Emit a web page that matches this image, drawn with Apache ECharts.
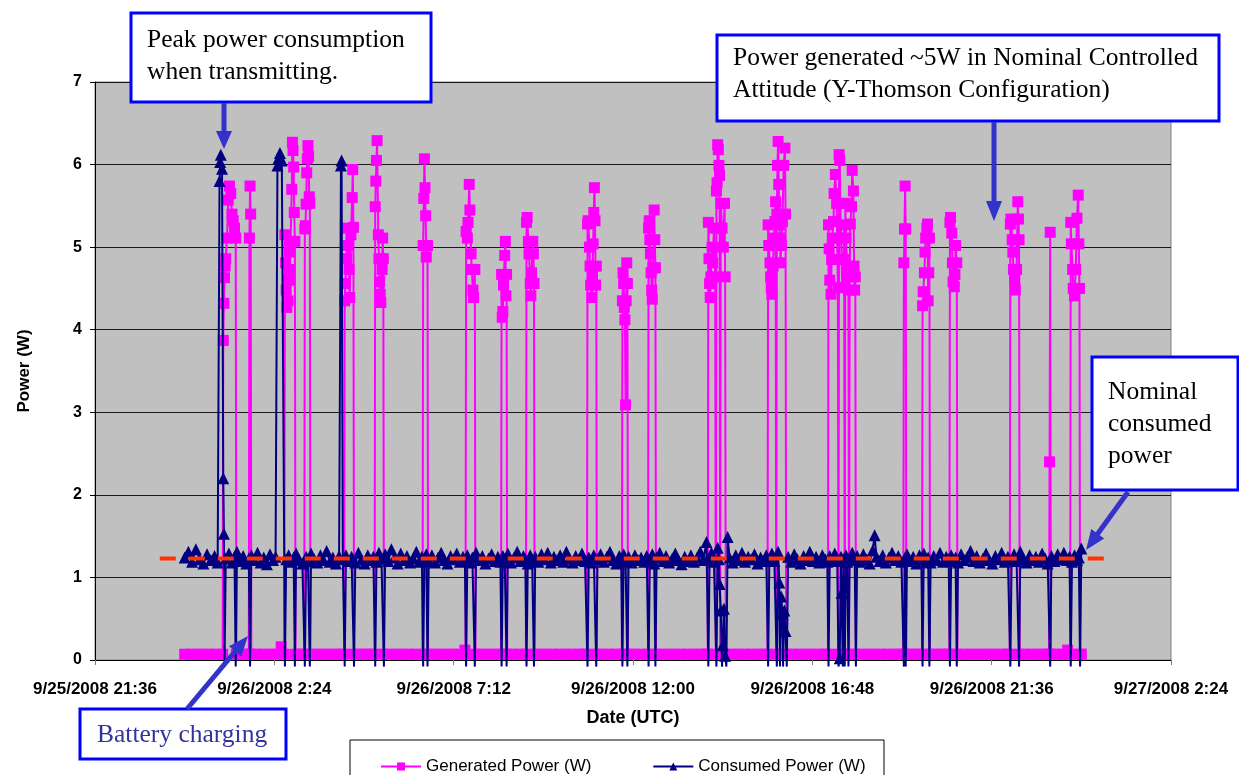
<!DOCTYPE html>
<html><head><meta charset="utf-8">
<script src="https://cdn.jsdelivr.net/npm/echarts@6/dist/echarts.min.js"></script>
<style>html,body{margin:0;padding:0;background:#fff}#chart{width:1239px;height:775px}</style>
</head><body><div id="chart"></div>
<script>
// ---- Data (time = minutes after 9/26/2008 00:00 UTC, power in W) ----
const xTickLabels = ['9/25/2008 21:36','9/26/2008 2:24','9/26/2008 7:12','9/26/2008 12:00','9/26/2008 16:48','9/26/2008 21:36','9/27/2008 2:24'];
const seriesNames = ['Generated Power (W)','Consumed Power (W)'];

const generated = [
[0,0.07],[10,0.07],[20,0.07],[30,0.07],[40,0.07],[50,0.07],[61,0.07],
[62,3.87],[63,4.32],[64,4.63],[65,4.77],[66,4.86],[68,5.11],[70,5.57],[72,5.74],[74,5.65],[76,5.40],[78,5.32],[80,5.23],[82,5.11],[83,0.07],
[93,0.07],[103,0.07],
[104,5.11],[105,5.74],[106,5.40],[107,0.07],
[117,0.07],[127,0.07],[137,0.07],[147,0.07],[155,0.16],[160,0.07],
[161,5.15],[162,4.81],[163,4.48],[164,4.27],[166,4.35],[167,4.60],[168,4.73],[169,4.94],[170,5.07],[172,5.70],[173,6.27],[174,6.17],[175,5.97],[176,5.42],[177,5.07],[178,0.07],
[185,0.07],[192,0.07],
[193,5.22],[194,5.26],[195,5.52],[196,5.90],[197,6.07],[198,6.23],[199,6.10],[200,5.61],[201,5.53],[202,0.07],
[212,0.07],[222,0.07],[232,0.07],[242,0.07],[250,0.07],[256,0.07],
[257,4.35],[258,4.56],[260,4.86],[261,5.23],[263,5.02],[264,4.73],[265,4.39],[267,5.15],[269,5.60],[270,5.94],[271,5.24],[272,0.07],
[280,0.07],[290,0.07],[298,0.07],[305,0.07],
[306,5.49],[307,5.80],[308,6.05],[309,6.29],[311,5.15],[312,4.86],[313,4.58],[314,4.43],[315,4.33],[317,4.73],[318,5.11],[319,4.86],[320,0.07],
[330,0.07],[340,0.07],[350,0.07],[360,0.07],[370,0.07],[382,0.07],
[383,5.02],[384,5.59],[385,6.07],[386,5.72],[387,5.38],[388,4.88],[390,5.02],[391,0.07],
[400,0.07],[410,0.07],[420,0.07],[430,0.07],[440,0.07],[450,0.12],[451,0.07],
[452,5.19],[454,5.11],[455,5.30],[457,5.76],[458,5.45],[460,4.92],[461,4.73],[463,4.48],[464,4.39],[466,4.73],[467,0.07],
[477,0.07],[487,0.07],[497,0.07],[508,0.07],
[509,4.67],[510,4.15],[511,4.22],[512,4.54],[514,4.90],[515,5.07],[516,4.41],[517,4.67],[518,0.07],
[528,0.07],[538,0.07],[548,0.07],
[549,5.30],[550,5.36],[552,5.07],[553,4.92],[555,4.56],[556,4.41],[557,4.69],[559,5.07],[560,4.92],[561,4.56],[562,0.07],
[572,0.07],[582,0.07],[592,0.07],[602,0.07],[612,0.07],[622,0.07],[632,0.07],[641,0.07],[646,0.07],
[647,5.28],[648,5.32],[650,5.00],[651,4.77],[652,4.54],[654,4.39],[655,4.67],[656,5.04],[657,5.42],[658,5.72],[659,5.32],[660,4.54],[661,4.77],[662,0.07],
[672,0.07],[682,0.07],[692,0.07],[702,0.07],
[703,4.35],[704,4.69],[705,4.56],[706,4.27],[707,4.12],[708,3.09],[709,4.35],[710,4.81],[711,4.56],[712,0.07],
[722,0.07],[732,0.07],[744,0.07],
[745,5.23],[746,5.32],[747,5.09],[748,4.92],[749,4.69],[750,4.48],[751,4.37],[752,4.75],[754,5.45],[755,5.09],[756,4.75],[757,0.07],
[767,0.07],[777,0.07],[787,0.07],[797,0.07],[807,0.07],[817,0.07],[827,0.07],[836,0.07],[840,0.07],
[841,5.30],[842,4.86],[843,4.56],[844,4.39],[845,4.64],[847,5.00],[848,4.81],[850,5.23],[852,4.64],[853,0.07],[854,5.68],[855,5.78],[856,6.24],[857,6.18],[858,5.99],[859,5.87],[860,0.07],[861,5.53],[863,5.23],[865,5.00],[867,5.53],[868,4.64],[869,0.07],
[879,0.07],[889,0.07],[899,0.07],[909,0.07],[919,0.07],[929,0.07],[936,0.07],
[937,5.27],[938,5.02],[940,4.81],[941,4.64],[942,4.51],[943,4.43],[945,4.77],[946,5.11],[948,5.31],[949,5.55],[950,0.07],[951,5.40],[952,5.99],[953,6.28],[954,5.76],[955,5.27],[956,5.11],[957,4.81],[958,5.02],[960,5.31],[962,5.99],[964,6.20],[965,5.40],[966,0.07],
[976,0.07],[986,0.07],[996,0.07],[1006,0.07],[1016,0.07],[1026,0.07],[1033,0.07],
[1034,5.27],[1035,4.98],[1036,4.60],[1038,4.43],[1039,4.85],[1040,5.11],[1042,5.31],[1043,5.65],[1045,5.88],[1047,5.53],[1049,4.51],[1050,0.07],[1051,6.12],[1052,6.05],[1053,5.53],[1054,5.11],[1055,4.85],[1056,4.51],[1058,4.85],[1059,5.27],[1060,0.07],[1061,5.53],[1062,5.11],[1064,4.77],[1066,4.48],[1067,0.07],[1068,4.64],[1069,5.28],[1071,5.49],[1072,5.93],[1074,5.68],[1075,4.77],[1076,4.48],[1077,4.64],[1078,0.07],
[1088,0.07],[1098,0.07],[1108,0.07],[1118,0.07],[1128,0.07],[1138,0.07],[1148,0.07],[1154,0.07],
[1155,4.81],[1156,5.22],[1157,5.74],[1158,5.22],[1159,0.07],
[1168,0.07],[1176,0.07],[1184,0.07],
[1185,4.29],[1186,4.46],[1188,4.69],[1189,4.94],[1190,5.11],[1192,5.23],[1193,5.28],[1194,4.35],[1195,4.69],[1196,5.11],[1197,0.07],
[1206,0.07],[1216,0.07],[1224,0.07],[1228,0.07],
[1229,5.30],[1230,5.36],[1232,5.17],[1233,4.81],[1234,4.58],[1236,4.52],[1237,4.67],[1238,5.02],[1240,4.81],[1241,0.07],
[1251,0.07],[1261,0.07],[1271,0.07],[1281,0.07],[1291,0.07],[1301,0.07],[1311,0.07],[1320,0.07],[1325,0.07],
[1326,5.28],[1327,5.34],[1329,5.09],[1330,4.94],[1331,4.73],[1333,4.60],[1334,4.48],[1336,4.73],[1338,5.55],[1339,5.34],[1340,5.09],[1341,0.07],
[1350,0.07],[1360,0.07],[1370,0.07],[1380,0.07],[1388,0.07],
[1389,2.40],[1390,5.18],[1391,0.07],
[1400,0.07],[1410,0.07],[1418,0.12],[1422,0.07],
[1423,5.30],[1424,5.04],[1426,4.73],[1427,4.50],[1429,4.41],[1431,4.73],[1433,5.35],[1435,5.63],[1436,5.04],[1437,4.50],[1438,0.07],
[1440,0.07]
];

const consumed = [
[0,1.24],[6,1.31],[12,1.19],[18,1.34],[24,1.22],[30,1.17],[36,1.28],[42,1.21],[48,1.26],[53,1.18],
[56,5.80],[57,6.03],[58,6.12],[60,5.95],[62,2.20],[63,1.53],[64,-0.08],
[66,1.23],[71,1.29],[76,1.18],[80,1.25],[82,-0.08],
[84,1.31],[89,1.20],[94,1.26],[99,1.17],[103,1.23],[105,-0.08],
[107,1.27],[112,1.21],[117,1.30],[122,1.18],[127,1.24],[132,1.16],[137,1.28],[142,1.21],[146,1.25],
[149,5.99],[151,6.08],[153,6.14],[156,6.05],[161,-0.08],
[163,1.22],[167,1.27],[171,1.19],[175,1.24],[177,-0.08],
[179,1.29],[184,1.21],[189,1.17],[193,-0.08],
[195,1.25],[198,1.20],[201,-0.08],
[203,1.29],[208,1.22],[213,1.18],[218,1.27],[223,1.21],[228,1.32],[233,1.19],[238,1.24],[243,1.17],[248,1.26],
[251,5.99],[252,6.05],[254,1.22],[257,-0.08],
[259,1.27],[263,1.20],[268,1.25],[272,-0.08],
[274,1.18],[279,1.30],[284,1.22],[289,1.17],[294,1.27],[299,1.21],[303,1.25],[306,-0.08],
[308,1.19],[312,1.30],[316,1.23],[320,-0.08],
[322,1.28],[327,1.20],[332,1.34],[337,1.24],[342,1.17],[347,1.29],[352,1.21],[357,1.26],[362,1.18],[367,1.23],[372,1.31],[377,1.19],[381,1.25],[383,-0.08],
[385,1.22],[388,1.28],[390,-0.08],
[392,1.20],[397,1.27],[402,1.18],[407,1.24],[412,1.30],[417,1.21],[422,1.17],[427,1.26],[432,1.22],[437,1.29],[442,1.19],[447,1.25],[450,1.21],[452,-0.08],
[454,1.27],[458,1.18],[462,1.24],[466,-0.08],
[468,1.30],[473,1.21],[478,1.26],[483,1.17],[488,1.23],[493,1.28],[498,1.20],[503,1.25],[507,1.19],[509,-0.08],
[511,1.26],[514,1.21],[517,-0.08],
[519,1.29],[524,1.18],[529,1.24],[534,1.31],[539,1.20],[544,1.26],[547,1.22],[549,-0.08],
[551,1.17],[555,1.27],[558,1.21],[561,-0.08],
[563,1.25],[568,1.19],[573,1.28],[578,1.22],[583,1.30],[588,1.18],[593,1.25],[598,1.21],[603,1.27],[608,1.19],[613,1.31],[618,1.23],[623,1.18],[628,1.26],[633,1.21],[638,1.29],[643,1.20],[647,-0.08],
[649,1.24],[653,1.18],[657,1.27],[661,-0.08],
[663,1.22],[668,1.28],[673,1.19],[678,1.25],[683,1.31],[688,1.21],[693,1.17],[698,1.26],[701,1.22],[703,-0.08],
[705,1.28],[708,1.20],[711,-0.08],
[713,1.25],[718,1.18],[723,1.27],[728,1.21],[733,1.24],[738,1.19],[742,1.26],[745,-0.08],
[747,1.21],[751,1.28],[754,1.17],[756,-0.08],
[758,1.24],[763,1.30],[768,1.20],[773,1.26],[778,1.18],[783,1.23],[788,1.29],[793,1.21],[798,1.16],[803,1.25],[808,1.20],[813,1.27],[818,1.19],[823,1.24],[828,1.31],[833,1.21],[838,1.43],[841,-0.08],
[843,1.23],[846,1.30],[850,1.19],[854,-0.08],
[856,1.36],[858,1.22],[859,0.92],[861,0.60],[863,-0.08],[864,0.18],[866,0.62],[868,0.05],[870,-0.08],
[872,1.49],[875,1.24],[880,1.18],[885,1.27],[890,1.21],[895,1.30],[900,1.19],[905,1.25],[910,1.22],[915,1.28],[920,1.17],[925,1.24],[930,1.20],[934,1.27],[937,-0.08],
[939,1.22],[943,1.29],[947,1.20],[951,-0.08],
[953,1.31],[955,0.94],[956,-0.08],[958,0.77],[960,0.56],[961,-0.08],[963,0.60],[965,0.35],[967,-0.08],
[969,1.25],[974,1.19],[979,1.28],[984,1.22],[989,1.17],[994,1.26],[999,1.21],[1004,1.31],[1009,1.20],[1014,1.25],[1019,1.18],[1024,1.27],[1029,1.22],[1032,1.19],[1034,-0.08],
[1036,1.26],[1040,1.21],[1044,1.29],[1048,1.20],[1050,-0.08],
[1052,0.02],[1054,1.25],[1055,0.81],[1057,-0.08],[1058,1.22],[1060,-0.08],
[1062,1.27],[1064,1.19],[1066,-0.08],
[1068,1.24],[1072,1.30],[1076,1.21],[1078,-0.08],
[1080,1.26],[1085,1.19],[1090,1.28],[1095,1.22],[1100,1.17],[1105,1.33],[1108,1.51],[1111,1.25],[1116,1.20],[1121,1.27],[1126,1.18],[1131,1.24],[1136,1.30],[1141,1.21],[1146,1.26],[1151,1.19],[1155,-0.08],
[1157,1.24],[1158,-0.08],
[1160,1.28],[1165,1.20],[1170,1.25],[1175,1.17],[1180,1.27],[1183,1.22],[1185,-0.08],
[1187,1.29],[1191,1.19],[1194,1.24],[1196,-0.08],
[1198,1.18],[1203,1.26],[1208,1.21],[1213,1.30],[1218,1.19],[1223,1.25],[1227,1.22],[1229,-0.08],
[1231,1.27],[1235,1.20],[1238,1.24],[1240,-0.08],
[1242,1.18],[1247,1.28],[1252,1.21],[1257,1.25],[1262,1.32],[1267,1.20],[1272,1.26],[1277,1.18],[1282,1.23],[1287,1.29],[1292,1.21],[1297,1.17],[1302,1.26],[1307,1.22],[1312,1.30],[1317,1.19],[1322,1.25],[1326,-0.08],
[1328,1.21],[1332,1.28],[1336,1.20],[1340,-0.08],
[1342,1.31],[1347,1.22],[1352,1.18],[1357,1.27],[1362,1.21],[1367,1.25],[1372,1.19],[1377,1.29],[1382,1.23],[1386,1.17],[1390,-0.08],
[1392,1.26],[1397,1.20],[1402,1.28],[1407,1.22],[1412,1.30],[1417,1.21],[1421,1.25],[1423,-0.08],
[1425,1.19],[1429,1.27],[1433,1.21],[1436,1.24],[1438,-0.08],
[1440,1.35]
];

const nominalTime = [-40, 1489];
const nominalPower = [1.23, 1.23];

// axis: minutes from 9/25/2008 21:36 (start of axis) ; 9/26 00:00 is 144 min later
const AXIS_OFFSET = 144;
const AXIS_MAX = 1728;
const TICK_STEP = 288;

const genData = generated.map(p => [p[0] + AXIS_OFFSET, p[1]]);
const conData = consumed.map(p => p[1] < 0 ? {value:[p[0] + AXIS_OFFSET, p[1]], symbol:'none'} : [p[0] + AXIS_OFFSET, p[1]]);
const nomData = nominalTime.map((t,i) => [t + AXIS_OFFSET, nominalPower[i]]);

function arrow(x1,y1,x2,y2,sw,hl,hw){
  const dx=x2-x1, dy=y2-y1, L=Math.hypot(dx,dy), ux=dx/L, uy=dy/L, px=-uy, py=ux;
  const bx=x2-ux*hl, by=y2-uy*hl;
  return [[x1+px*sw/2,y1+py*sw/2],[bx+px*sw/2,by+py*sw/2],[bx+px*hw/2,by+py*hw/2],[x2,y2],
          [bx-px*hw/2,by-py*hw/2],[bx-px*sw/2,by-py*sw/2],[x1-px*sw/2,y1-py*sw/2]];
}
const ARROW = '#3333CC', BOXC = '#0000FF';
const serif = '25.5px "Liberation Serif", "Times New Roman", serif';
const SANS = '"Liberation Sans", Arial, sans-serif';
function box(x,y,w,h){ return {type:'rect', z:100, shape:{x:x,y:y,width:w,height:h}, style:{fill:'#fff', stroke:BOXC, lineWidth:3}}; }
function txt(x,y,t,color){ return {type:'text', z:101, style:{x:x,y:y,text:t,font:serif,fill:color||'#000',lineHeight:32,verticalAlign:'top'}}; }
function arr(a){ return {type:'polygon', z:102, shape:{points:a}, style:{fill:ARROW}}; }

const chart = echarts.init(document.getElementById('chart'));
chart.setOption({
  animation:false,
  backgroundColor:'#fff',
  grid:{left:95, right:68, top:82, bottom:115, show:true, backgroundColor:'#C0C0C0', borderColor:'#808080', borderWidth:1},
  legend:{data:seriesNames, left:375, top:753, itemWidth:40, itemHeight:10, itemGap:61,
    textStyle:{fontFamily:SANS, fontSize:17, color:'#000'}},
  xAxis:{type:'value', min:0, max:AXIS_MAX, interval:TICK_STEP,
    name:'Date (UTC)', nameLocation:'middle', nameGap:49,
    nameTextStyle:{fontFamily:SANS, fontWeight:'bold', fontSize:18, color:'#000'},
    axisLine:{show:true, lineStyle:{color:'#000', width:1}},
    axisTick:{show:true, length:5, lineStyle:{color:'#808080'}},
    splitLine:{show:false},
    axisLabel:{margin:21, fontFamily:SANS, fontWeight:'bold', fontSize:17, color:'#000',
      formatter:v => xTickLabels[Math.round(v/TICK_STEP)] || ''}},
  yAxis:{type:'value', min:0, max:7, interval:1,
    name:'Power (W)', nameLocation:'middle', nameGap:62, nameRotate:90,
    nameTextStyle:{fontFamily:SANS, fontWeight:'bold', fontSize:17, color:'#000'},
    axisLine:{show:true, lineStyle:{color:'#000', width:1}},
    axisTick:{show:true, length:5, lineStyle:{color:'#000'}},
    splitLine:{show:true, lineStyle:{color:'#1a1a1a', width:1}},
    axisLabel:{margin:13, fontFamily:SANS, fontWeight:'bold', fontSize:16, color:'#000'}},
  series:[
    {name:seriesNames[0], type:'line', data:genData, symbol:'rect', symbolSize:11, showAllSymbol:true,
     lineStyle:{color:'#FF00FF', width:2}, itemStyle:{color:'#FF00FF'}, z:2, emphasis:{disabled:true}},
    {name:seriesNames[1], type:'line', data:conData, symbol:'triangle', symbolSize:[12,12], showAllSymbol:true, clip:false,
     lineStyle:{color:'#000080', width:2}, itemStyle:{color:'#000080'}, z:3, emphasis:{disabled:true}},
    {name:'Nominal', type:'line', data:nomData, symbol:'none', silent:true,
     lineStyle:{color:'#FF3300', width:4, type:[16,13]}, z:5}
  ],
  graphic:[
    {type:'rect', z:0, shape:{x:350, y:740, width:534, height:50}, style:{fill:'#fff', stroke:'#000', lineWidth:1}},
    box(131,13,300,89), txt(147,24,'Peak power consumption\nwhen transmitting.'),
    box(717,35,502,86), txt(733,42,'Power generated ~5W in Nominal Controlled\nAttitude (Y-Thomson Configuration)'),
    box(1092,357,146,133), txt(1108,376,'Nominal\nconsumed\npower'),
    box(80,709,206,50), txt(97,719,'Battery charging','#333399'),
    arr(arrow(224,103,224,149,5,18,16)),
    arr(arrow(994,122,994,221,5,20,16)),
    arr(arrow(1128,492,1086,550,5,20,16)),
    arr(arrow(187,709,248,636,5,20,16))
  ]
});
</script>
</body></html>
